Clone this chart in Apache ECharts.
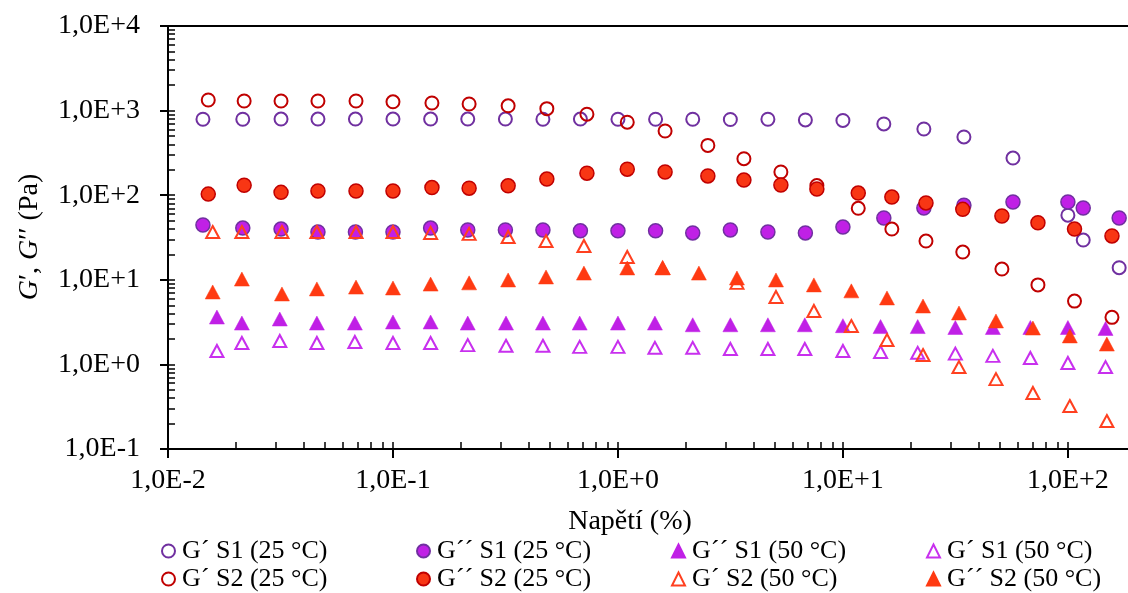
<!DOCTYPE html>
<html>
<head>
<meta charset="utf-8">
<script src="https://cdn.jsdelivr.net/npm/echarts@6/dist/echarts.min.js"></script>
<style>
  html, body { margin: 0; padding: 0; background: #ffffff; }
  #chart { width: 1128px; height: 593px; }
</style>
</head>
<body>
<div id="chart"></div>
<script>
// Strain amplitude (%) of each amplitude sweep
const strainS1_25 = [0.0143, 0.0215, 0.0318, 0.0464, 0.0681, 0.100, 0.147, 0.215, 0.316, 0.464, 0.681, 1.00, 1.47, 2.15, 3.16, 4.64, 6.81, 10.0, 15.2, 22.9, 34.5, 57.0, 100, 117, 169];
const strainS2_25 = [0.0151, 0.0218, 0.0318, 0.0464, 0.0685, 0.100, 0.149, 0.218, 0.325, 0.483, 0.728, 1.10, 1.62, 2.51, 3.63, 5.30, 7.66, 11.7, 16.5, 23.4, 34.1, 50.9, 73.6, 107, 157];
const strainS1_50 = [0.0165, 0.0213, 0.0314, 0.0459, 0.0677, 0.100, 0.147, 0.215, 0.318, 0.464, 0.676, 1.00, 1.46, 2.15, 3.16, 4.64, 6.77, 10.0, 14.7, 21.5, 31.6, 46.4, 68.1, 100, 147];
const strainS2_50 = [0.0158, 0.0213, 0.0321, 0.0459, 0.0685, 0.100, 0.147, 0.218, 0.325, 0.479, 0.706, 1.10, 1.58, 2.29, 3.38, 5.04, 7.43, 10.9, 15.7, 22.7, 32.8, 47.9, 69.9, 102, 149];

// Storage modulus G´ and loss modulus G´´ (Pa)
const gS1_25 = [790, 790, 795, 795, 795, 795, 795, 795, 795, 790, 795, 790, 790, 790, 785, 790, 775, 765, 695, 606, 488, 275, 58, 29.5, 13.9];
const ggS1_25 = [44.4, 40.9, 39.8, 36.7, 36.7, 36.7, 40.9, 38.8, 38.8, 38.8, 37.9, 37.9, 37.9, 35.8, 38.8, 36.7, 35.8, 42.0, 53.7, 70.6, 76, 83.1, 83.1, 70.6, 53.7];
const gS2_25 = [1334, 1299, 1299, 1299, 1299, 1270, 1230, 1197, 1140, 1054, 906, 729, 574, 388, 270, 188, 130, 70, 39.8, 28.7, 21.3, 13.4, 8.7, 5.6, 3.6];
const ggS2_25 = [103, 131, 108, 112, 112, 112, 123, 121, 129, 155, 182, 203, 188, 169, 151, 132, 118, 106, 95, 81, 68, 56.8, 47.3, 39.8, 33.0];
const ggS1_50 = [3.63, 3.08, 3.44, 3.08, 3.08, 3.17, 3.17, 3.08, 3.08, 3.08, 3.08, 3.08, 3.08, 2.94, 2.94, 2.94, 2.94, 2.87, 2.80, 2.80, 2.73, 2.73, 2.73, 2.73, 2.66];
const gS1_50 = [1.44, 1.79, 1.89, 1.79, 1.84, 1.79, 1.79, 1.69, 1.66, 1.66, 1.61, 1.61, 1.57, 1.57, 1.52, 1.52, 1.52, 1.44, 1.40, 1.37, 1.34, 1.26, 1.19, 1.04, 0.93];
const gS2_50 = [36.7, 36.7, 36.7, 36.7, 36.7, 36.7, 35.8, 34.9, 32.1, 28.7, 25.1, 18.6, 13.8, null, 9.2, 6.27, 4.28, 2.84, 1.94, 1.29, 0.93, 0.67, 0.459, 0.322, 0.214];
const ggS2_50 = [7.18, 10.2, 6.8, 7.8, 8.2, 8.0, 8.9, 9.2, 9.95, 10.8, 12.0, 13.8, 13.8, 12.0, 10.5, 9.95, 8.7, 7.4, 6.1, 4.9, 4.05, 3.26, 2.69, 2.17, 1.74];

// Axis decades and tick labels
const xMajor = [0.01, 0.1, 1, 10, 100];
const yMajor = [0.1, 1, 10, 100, 1000, 10000];
const xTickLabels = ['1,0E-2', '1,0E-1', '1,0E+0', '1,0E+1', '1,0E+2'];
const yTickLabels = ['1,0E-1', '1,0E+0', '1,0E+1', '1,0E+2', '1,0E+3', '1,0E+4'];

const FONT = '"Liberation Serif", "Times New Roman", serif';

function minorTicks(majors, upper) {
  const out = [];
  majors.forEach(function (m) {
    for (let k = 1; k <= 9; k++) {
      const v = +(m * k).toPrecision(6);
      if (v <= upper) out.push(v);
    }
  });
  return out;
}
function labelFor(majors, labels) {
  return function (v) {
    for (let i = 0; i < majors.length; i++) {
      if (Math.abs(Math.log10(v) - Math.log10(majors[i])) < 1e-6) return labels[i];
    }
    return '';
  };
}
function pairs(xs, ys) {
  return xs.map(function (x, i) { return [x, ys[i]]; }).filter(function (d) { return d[1] != null; });
}

const X_MIN = 0.01, X_MAX = 185, Y_MIN = 0.1, Y_MAX = 10000;
const xMinor = minorTicks([0.01, 0.1, 1, 10, 100], X_MAX);
const yMinor = minorTicks([0.1, 1, 10, 100, 1000], Y_MAX);

const PURPLE_DARK = '#7030A0';
const PURPLE = '#C020E6';
const RED_DARK = '#C00000';
const RED = '#F83614';

const seriesDefs = [
  { name: 'G´ S1 (25 °C)', x: strainS1_25, y: gS1_25, symbol: 'circle', size: 13,
    style: { color: 'rgba(255,255,255,0)', borderColor: PURPLE_DARK, borderWidth: 2 } },
  { name: 'G´´ S1 (25 °C)', x: strainS1_25, y: ggS1_25, symbol: 'circle', size: 14,
    style: { color: PURPLE, borderColor: PURPLE_DARK, borderWidth: 1.5 } },
  { name: 'G´ S2 (25 °C)', x: strainS2_25, y: gS2_25, symbol: 'circle', size: 13,
    style: { color: 'rgba(255,255,255,0)', borderColor: RED_DARK, borderWidth: 2 } },
  { name: 'G´´ S2 (25 °C)', x: strainS2_25, y: ggS2_25, symbol: 'circle', size: 14,
    style: { color: RED, borderColor: RED_DARK, borderWidth: 1.5 } },
  { name: 'G´´ S1 (50 °C)', x: strainS1_50, y: ggS1_50, symbol: 'triangle', size: [15, 14],
    style: { color: PURPLE, borderColor: PURPLE, borderWidth: 0.5 } },
  { name: 'G´ S1 (50 °C)', x: strainS1_50, y: gS1_50, symbol: 'triangle', size: [13, 12],
    style: { color: 'rgba(255,255,255,0)', borderColor: '#C830EE', borderWidth: 2 } },
  { name: 'G´ S2 (50 °C)', x: strainS2_50, y: gS2_50, symbol: 'triangle', size: [13, 12],
    style: { color: 'rgba(255,255,255,0)', borderColor: '#FF4020', borderWidth: 2 } },
  { name: 'G´´ S2 (50 °C)', x: strainS2_50, y: ggS2_50, symbol: 'triangle', size: [15, 14],
    style: { color: '#FF3A12', borderColor: '#FF3A12', borderWidth: 0.5 } }
];

// Legend layout: two rows of four entries
const legendOrder = [
  ['G´ S1 (25 °C)', 'G´´ S1 (25 °C)', 'G´´ S1 (50 °C)', 'G´ S1 (50 °C)'],
  ['G´ S2 (25 °C)', 'G´´ S2 (25 °C)', 'G´ S2 (50 °C)', 'G´´ S2 (50 °C)']
];
const legendCols = [161, 416, 671, 926];
const legendRows = [538, 566];
const legends = [];
legendOrder.forEach(function (row, r) {
  row.forEach(function (name, c) {
    legends.push({
      data: [name], left: legendCols[c], top: legendRows[r], padding: 0,
      itemWidth: 13, itemHeight: 13, selectedMode: false,
      textStyle: { fontFamily: FONT, fontSize: 26, color: '#000', lineHeight: 26, padding: [0, 0, 0, 2] }
    });
  });
});

const axisBase = { type: 'log', logBase: 10, gridIndex: 0, splitLine: { show: false } };

const chart = echarts.init(document.getElementById('chart'), null, { renderer: 'canvas' });
chart.setOption({
  backgroundColor: '#ffffff',
  animation: false,
  grid: { left: 168, top: 26, right: 0, height: 423, containLabel: false },
  legend: legends,
  xAxis: [
    Object.assign({}, axisBase, {
      min: X_MIN, max: X_MAX, position: 'bottom',
      axisLine: { show: true, lineStyle: { color: '#000', width: 2 } },
      axisTick: { show: true, inside: false, length: 9, customValues: xMajor, lineStyle: { color: '#000', width: 2 } },
      axisLabel: { show: true, customValues: xMajor, formatter: labelFor(xMajor, xTickLabels), margin: 18,
        fontFamily: FONT, fontSize: 28, color: '#000' }
    }),
    Object.assign({}, axisBase, {
      min: X_MIN, max: X_MAX, position: 'bottom',
      axisLine: { show: false },
      axisTick: { show: true, inside: true, length: 7, customValues: xMinor, lineStyle: { color: '#000', width: 1.5 } },
      axisLabel: { show: false }
    }),
    Object.assign({}, axisBase, {
      min: X_MIN, max: X_MAX, position: 'top',
      axisLine: { show: true, lineStyle: { color: '#000', width: 2 } },
      axisTick: { show: false }, axisLabel: { show: false }
    })
  ],
  yAxis: [
    Object.assign({}, axisBase, {
      min: Y_MIN, max: Y_MAX, position: 'left',
      axisLine: { show: true, lineStyle: { color: '#000', width: 2 } },
      axisTick: { show: true, inside: false, length: 8, customValues: yMajor, lineStyle: { color: '#000', width: 2 } },
      axisLabel: { show: true, customValues: yMajor, formatter: labelFor(yMajor, yTickLabels), margin: 28,
        fontFamily: FONT, fontSize: 28, color: '#000' }
    }),
    Object.assign({}, axisBase, {
      min: Y_MIN, max: Y_MAX, position: 'left',
      axisLine: { show: false },
      axisTick: { show: true, inside: true, length: 7, customValues: yMinor, lineStyle: { color: '#000', width: 1.5 } },
      axisLabel: { show: false }
    })
  ],
  graphic: [
    { type: 'text', x: 630, y: 522, silent: true,
      style: { text: 'Napětí (%)', fontFamily: FONT, fontSize: 28, fill: '#000', align: 'center', verticalAlign: 'middle' } },
    { type: 'text', x: 30, y: 237, rotation: Math.PI / 2, silent: true,
      style: { text: '{i|G}′, {i|G}′′ (Pa)', fontFamily: FONT, fontSize: 28, fill: '#000', align: 'center', verticalAlign: 'middle',
        rich: { i: { fontStyle: 'italic', fontFamily: FONT, fontSize: 28, fill: '#000' } } } }
  ],
  series: seriesDefs.map(function (s) {
    return {
      type: 'scatter', name: s.name, xAxisIndex: 0, yAxisIndex: 0,
      data: pairs(s.x, s.y), symbol: s.symbol, symbolSize: s.size,
      itemStyle: Object.assign({ opacity: 1 }, s.style),
      emphasis: { disabled: true }
    };
  })
});
</script>
</body>
</html>
